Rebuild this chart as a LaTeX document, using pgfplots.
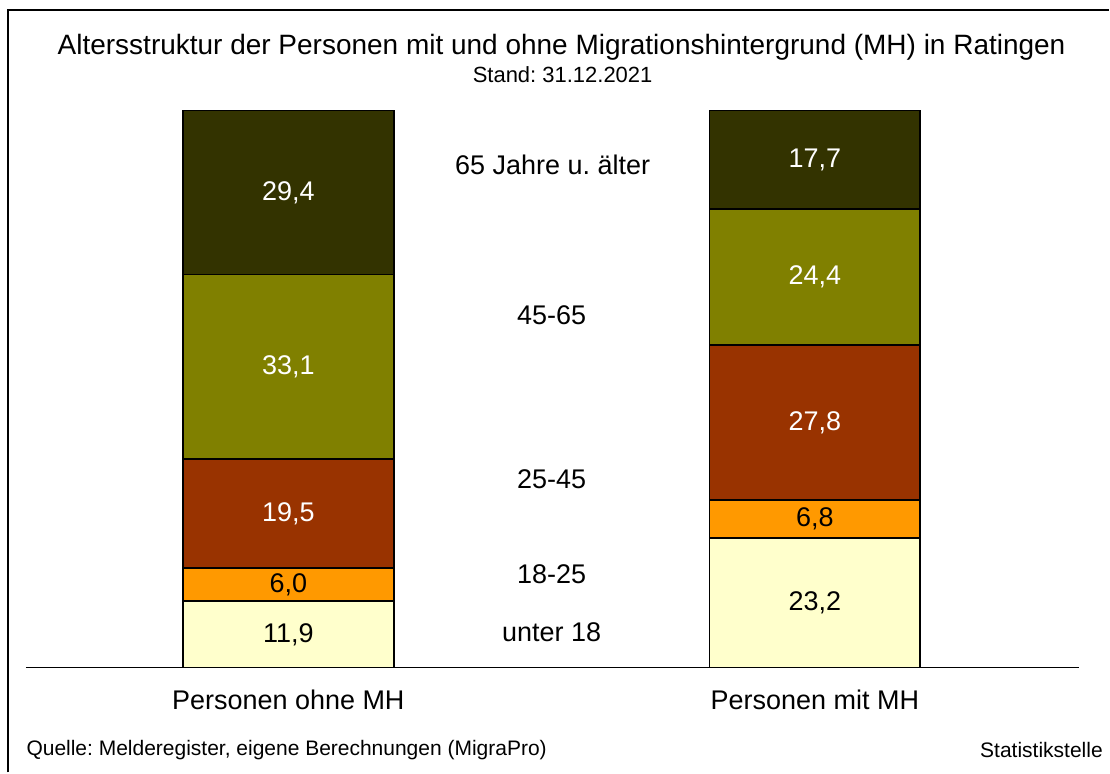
\documentclass[border=0pt]{standalone}
\usepackage{pgfplots}
\pgfplotsset{compat=1.18}
\usepackage{fontspec}
\setmainfont{Liberation Sans}
\frenchspacing
\definecolor{cA}{HTML}{FFFFCC}
\definecolor{cB}{HTML}{FF9900}
\definecolor{cC}{HTML}{993300}
\definecolor{cD}{HTML}{808000}
\definecolor{cE}{HTML}{333300}
\newcommand{\fs}[1]{\fontsize{#1}{#1}\selectfont}
\begin{document}
\begin{tikzpicture}[x=1pt,y=1pt]
\path (0,0) rectangle (1110,773);
\draw[line width=1.6pt] (7.8,0) -- (7.8,763) -- (1110,763);
\pgfplotsset{myax/.style={
  at={(0pt,105pt)}, anchor=south west, scale only axis, width=1110pt, height=558pt,
  xmin=0, xmax=1110, ymin=0, ymax=100, hide axis, clip=false}}
\begin{axis}[myax, ybar stacked, bar width=211pt,
  every axis plot/.append style={draw=black, line width=1.8pt}]
\addplot[fill=cA] coordinates {(288.5,11.9) (815.5,23.2)};
\addplot[fill=cB] coordinates {(288.5,6.0) (815.5,6.8)};
\addplot[fill=cC] coordinates {(288.5,19.5) (815.5,27.8)};
\addplot[fill=cD] coordinates {(288.5,33.1) (815.5,24.4)};
\addplot[fill=cE] coordinates {(288.5,29.4) (815.5,17.7)};
\end{axis}
\begin{axis}[myax]
\draw[line width=1.2pt] (axis cs:26,0) -- (axis cs:1080,0);
\addplot[draw=none, mark=none, nodes near coords, point meta=explicit symbolic,
  every node near coord/.style={anchor=center, text=black, font=\fs{27}}]
  table[meta=lab] {
x y lab
288.5 5.95 11,9
288.5 14.9 6,0
815.5 11.6 23,2
815.5 26.6 6,8
};
\addplot[draw=none, mark=none, nodes near coords, point meta=explicit symbolic,
  every node near coord/.style={anchor=center, text=white, font=\fs{27}}]
  table[meta=lab] {
x y lab
288.5 27.65 19,5
288.5 53.95 33,1
288.5 85.2 29,4
815.5 43.9 27,8
815.5 70.0 24,4
815.5 91.05 17,7
};
\end{axis}
\node[font=\fs{28}] at (562,726) {Altersstruktur der Personen mit und ohne Migrationshintergrund (MH) in Ratingen};
\node[font=\fs{22}] at (563,698) {Stand: 31.12.2021};
\node[font=\fs{27}] at (553,608) {65 Jahre u. älter};
\node[font=\fs{27}] at (552,458) {45-65};
\node[font=\fs{27}] at (552,293) {25-45};
\node[font=\fs{27}] at (552,198) {18-25};
\node[font=\fs{27}] at (552,140) {unter 18};
\node[font=\fs{27}] at (288.5,73) {Personen ohne MH};
\node[font=\fs{27}] at (815.5,73) {Personen mit MH};
\node[font=\fs{21}, anchor=west] at (23,22) {Quelle: Melderegister, eigene Berechnungen (MigraPro)};
\node[font=\fs{21}, anchor=east] at (1107,22) {Statistikstelle};
\end{tikzpicture}
\end{document}
